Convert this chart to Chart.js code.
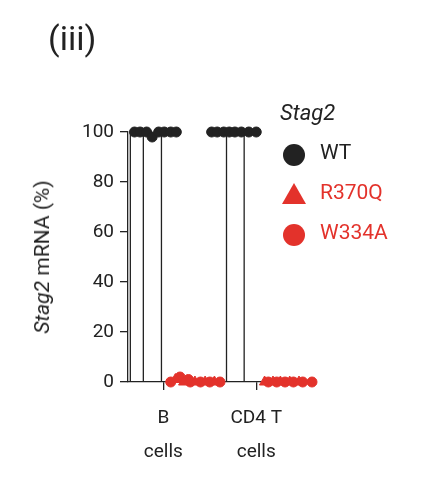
<!DOCTYPE html>
<html><head><meta charset="utf-8">
<script src="https://cdn.jsdelivr.net/npm/chart.js@4"></script>
<style>
body{margin:0;background:#fff;font-family:Roboto,"Noto Sans",sans-serif;}
#wrap{position:relative;width:427px;height:480px;}
canvas{position:absolute;left:0;top:0;}
.t{position:absolute;color:#222;white-space:nowrap;}
</style></head><body>
<div id="wrap">
<canvas id="c" width="427" height="480"></canvas>
<div class="t" style="left:48px;top:18px;font-size:34px;">(iii)</div>
<div class="t" style="left:42px;top:257px;font-size:21px;transform:translate(-50%,-50%) rotate(-90deg);"><i>Stag2</i> mRNA (%)</div>
<div class="t" style="left:280px;top:100px;font-size:22px;font-style:italic;">Stag2</div>
<div class="t" style="left:320px;top:140px;font-size:21px;">WT</div>
<div class="t" style="left:320px;top:180px;font-size:21px;color:#e3322b;">R370Q</div>
<div class="t" style="left:320px;top:220px;font-size:21px;color:#e3322b;">W334A</div>
</div>
<script>
// ====== DATA ======
const categories=[['B','cells'],['CD4 T','cells']];
const catPos=[1,2];
const yTicks=[0,20,40,60,80,100];
const barEdges=[0.645,0.785,0.98,1.68,1.87];
const wtX=[0.69,0.75,0.82,0.88,0.95,1.01,1.08,1.14,1.52,1.58,1.65,1.71,1.77,1.84,1.92,2.0];
const wtY=[100,100,100,98,100,100,100,100,100,100,100,100,100,100,100,100];
const r370qX=[1.13,1.22,1.34,1.45,1.55,2.09,2.18,2.26,2.36,2.46];
const r370qY=[1,0,0,0,0,0,0,0,0,0];
const w334aX=[1.08,1.18,1.27,1.29,1.40,1.50,1.61,2.13,2.22,2.31,2.40,2.50,2.60];
const w334aY=[0,2,1,0,0,0,0,0,0,0,0,0,0];

const red='#e3322b', ink='#222';
const pts=(xs,ys)=>xs.map((x,i)=>({x,y:ys[i]}));
const edges=[];
barEdges.forEach(x=>{edges.push({x,y:0},{x,y:100},{x,y:null});});

new Chart(document.getElementById('c'),{
  data:{datasets:[
    {type:'line',data:edges,borderColor:ink,borderWidth:1.3,pointRadius:0,spanGaps:false,order:5},
    {type:'scatter',data:pts(w334aX,w334aY),backgroundColor:red,borderColor:red,pointRadius:5,clip:false,order:3},
    {type:'scatter',data:pts(r370qX,r370qY),pointStyle:'triangle',backgroundColor:red,borderColor:red,pointRadius:6,clip:false,order:1},
    {type:'scatter',data:pts(wtX,wtY),backgroundColor:ink,borderColor:ink,pointRadius:5,clip:false,order:2}
  ]},
  options:{responsive:false,animation:false,
    layout:{padding:{top:132,right:115,left:0,bottom:0}},
    plugins:{legend:{display:false},tooltip:{enabled:false}},
    scales:{
      x:{type:'linear',min:0.62,max:2.6,
        afterBuildTicks:s=>{s.ticks=catPos.map(v=>({value:v}));},
        afterFit:s=>{s.height=98;},
        ticks:{color:ink,font:{size:19,family:'Roboto',lineHeight:1.75},padding:12,callback:(v)=>categories[catPos.indexOf(v)]},
        grid:{drawOnChartArea:false,tickLength:8,tickColor:ink,lineWidth:1.3},
        border:{color:ink,width:1.3}},
      y:{min:0,max:100,
        afterBuildTicks:s=>{s.ticks=yTicks.map(v=>({value:v}));},
        afterFit:s=>{s.width=128;},
        ticks:{color:ink,font:{size:19,family:'Roboto'},padding:6},
        grid:{drawOnChartArea:false,tickLength:8,tickColor:ink,lineWidth:1.3},
        border:{color:ink,width:1.3}}
    }
  },
  plugins:[{id:'legendMarks',afterDraw(ch){
    const c=ch.ctx;c.save();
    c.fillStyle=ink;c.beginPath();c.arc(294,155,11,0,Math.PI*2);c.fill();
    c.fillStyle=red;c.beginPath();c.moveTo(294,183);c.lineTo(306,204);c.lineTo(282,204);c.closePath();c.fill();
    c.beginPath();c.arc(294,235,11,0,Math.PI*2);c.fill();c.restore();
  }}]
});
</script></body></html>
